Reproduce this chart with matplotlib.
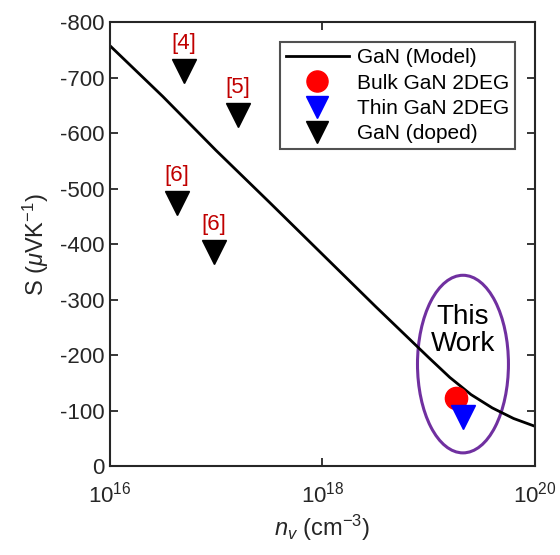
import numpy as np
import matplotlib.pyplot as plt
from matplotlib.patches import Ellipse

plt.rcParams['font.family'] = ['Liberation Sans', 'DejaVu Sans']
plt.rcParams['mathtext.fontset'] = 'custom'
plt.rcParams['mathtext.it'] = 'Liberation Sans:italic'
plt.rcParams['mathtext.rm'] = 'Liberation Sans'
plt.rcParams['axes.unicode_minus'] = False

# Modelo GaN: densidad (cm^-3) y Seebeck (uV/K)
model_n = [1e16, 10**16.5, 1e17, 10**17.5, 1e18, 10**18.5, 1e19,
           10**19.2, 10**19.4, 10**19.6, 10**19.8, 1e20]
model_S = [-758, -666, -569, -476, -382, -288, -196,
           -160, -129, -105, -86, -72]

# Medidas
bulk_n = [1.8e19]
bulk_S = [-123]
thin_n = [2.1e19]
thin_S = [-88]
doped_n = [5.0e16, 1.6e17, 4.3e16, 9.6e16]
doped_S = [-712, -632, -474, -386]
doped_ref = ['[4]', '[5]', '[6]', '[6]']

fig = plt.figure(figsize=(5.6, 5.55), dpi=100)
ax = fig.add_axes([0.196, 0.160, 0.759, 0.800])

ax.plot(model_n, model_S, 'k', linewidth=2, label='GaN (Model)')
ax.plot(bulk_n, bulk_S, 'o', color='red', markersize=16, linestyle='none',
        label='Bulk GaN 2DEG')
ax.plot(thin_n, thin_S, 'v', color='blue', markersize=17, linestyle='none',
        label='Thin GaN 2DEG')
ax.plot(doped_n, doped_S, 'v', color='black', markersize=17, linestyle='none',
        label='GaN (doped)')

# Etiquetas de referencias
for n, s, ref in zip(doped_n, doped_S, doped_ref):
    ax.annotate(ref, xy=(n, s), xytext=(0, 20), textcoords='offset points',
                ha='center', va='center', fontsize=16, color='#C00000')

# Elipse "This Work"
ell = Ellipse((0.831, 0.230), 0.214, 0.400, transform=ax.transAxes,
              fill=False, edgecolor='#7030A0', linewidth=2.2)
ax.add_patch(ell)
ax.text(0.831, 0.305, 'This\nWork', transform=ax.transAxes, ha='center',
        va='center', fontsize=20, color='black', linespacing=1.05)

ax.set_xscale('log')
ax.set_xlim(1e16, 1e20)
ax.set_ylim(0, -800)
ax.set_xticks([1e16, 1e18, 1e20])
ax.minorticks_off()
ax.set_yticks(np.arange(0, -801, -100))
ax.tick_params(direction='in', top=True, right=True, length=6, width=1.3,
               labelsize=16, colors='#262626')
ax.tick_params(axis='x', pad=11)
ax.tick_params(axis='y', pad=4)
for sp in ax.spines.values():
    sp.set_linewidth(1.5)
    sp.set_color('#262626')

ax.set_ylabel(r'S ($\mu$VK$^{-1}$)', fontsize=17, color='#262626', labelpad=6)
ax.set_xlabel(r'$n_v$ (cm$^{-3}$)', fontsize=17, color='#262626', labelpad=4)

leg = ax.legend(loc='upper right', bbox_to_anchor=(0.954, 0.955), fontsize=15,
                frameon=True, fancybox=False, edgecolor='#262626',
                handlelength=3.0, handletextpad=0.4, borderpad=0.3,
                labelspacing=0.3, markerscale=0.95, borderaxespad=0)
leg.get_frame().set_linewidth(1.5)

fig.savefig('out.png', dpi=100)
